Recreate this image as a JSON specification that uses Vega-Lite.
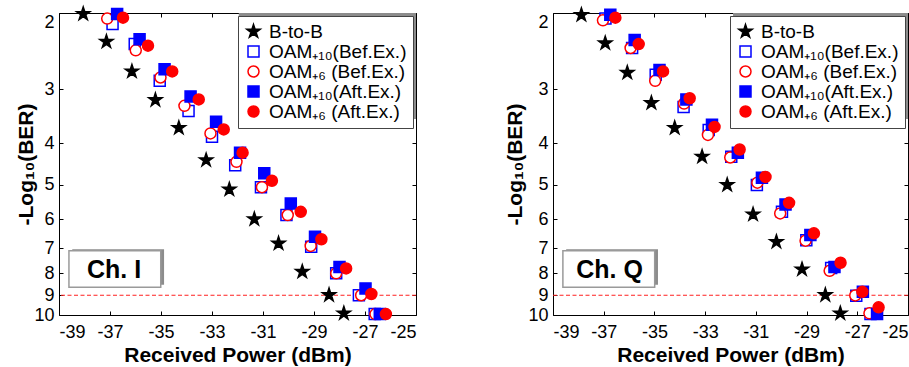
{
  "$schema": "https://vega.github.io/schema/vega-lite/v6.json",
  "background": "white",
  "padding": {"left": 14, "top": 3, "right": 0, "bottom": 0},
  "datasets": {
    "pts": [
      {"ch":"I","s":"B-to-B","p":-38.05,"b":2.01},{"ch":"I","s":"B-to-B","p":-37.14,"b":2.33},{"ch":"I","s":"B-to-B","p":-36.14,"b":2.73},{"ch":"I","s":"B-to-B","p":-35.22,"b":3.18},{"ch":"I","s":"B-to-B","p":-34.30,"b":3.69},{"ch":"I","s":"B-to-B","p":-33.23,"b":4.38},{"ch":"I","s":"B-to-B","p":-32.32,"b":5.12},{"ch":"I","s":"B-to-B","p":-31.34,"b":6.00},{"ch":"I","s":"B-to-B","p":-30.39,"b":6.83},{"ch":"I","s":"B-to-B","p":-29.46,"b":7.94},{"ch":"I","s":"B-to-B","p":-28.41,"b":8.99},{"ch":"I","s":"B-to-B","p":-27.83,"b":9.91},
      {"ch":"I","s":"OAM₊₁₀(Bef.Ex.)","p":-36.90,"b":2.12},{"ch":"I","s":"OAM₊₁₀(Bef.Ex.)","p":-36.03,"b":2.36},{"ch":"I","s":"OAM₊₁₀(Bef.Ex.)","p":-35.05,"b":2.87},{"ch":"I","s":"OAM₊₁₀(Bef.Ex.)","p":-33.92,"b":3.37},{"ch":"I","s":"OAM₊₁₀(Bef.Ex.)","p":-33.00,"b":3.87},{"ch":"I","s":"OAM₊₁₀(Bef.Ex.)","p":-32.09,"b":4.50},{"ch":"I","s":"OAM₊₁₀(Bef.Ex.)","p":-31.08,"b":5.06},{"ch":"I","s":"OAM₊₁₀(Bef.Ex.)","p":-30.08,"b":5.87},{"ch":"I","s":"OAM₊₁₀(Bef.Ex.)","p":-29.11,"b":6.95},{"ch":"I","s":"OAM₊₁₀(Bef.Ex.)","p":-28.13,"b":8.01},{"ch":"I","s":"OAM₊₁₀(Bef.Ex.)","p":-27.24,"b":9.0},{"ch":"I","s":"OAM₊₁₀(Bef.Ex.)","p":-26.62,"b":9.95},
      {"ch":"I","s":"OAM₊₆ (Bef.Ex.)","p":-37.11,"b":2.06},{"ch":"I","s":"OAM₊₆ (Bef.Ex.)","p":-35.99,"b":2.44},{"ch":"I","s":"OAM₊₆ (Bef.Ex.)","p":-35.02,"b":2.82},{"ch":"I","s":"OAM₊₆ (Bef.Ex.)","p":-34.08,"b":3.28},{"ch":"I","s":"OAM₊₆ (Bef.Ex.)","p":-33.06,"b":3.80},{"ch":"I","s":"OAM₊₆ (Bef.Ex.)","p":-32.04,"b":4.42},{"ch":"I","s":"OAM₊₆ (Bef.Ex.)","p":-31.04,"b":5.06},{"ch":"I","s":"OAM₊₆ (Bef.Ex.)","p":-30.03,"b":5.87},{"ch":"I","s":"OAM₊₆ (Bef.Ex.)","p":-29.13,"b":6.92},{"ch":"I","s":"OAM₊₆ (Bef.Ex.)","p":-28.13,"b":8.01},{"ch":"I","s":"OAM₊₆ (Bef.Ex.)","p":-27.15,"b":9.0},{"ch":"I","s":"OAM₊₆ (Bef.Ex.)","p":-26.59,"b":9.95},
      {"ch":"I","s":"OAM₊₁₀(Aft.Ex.)","p":-36.72,"b":2.01},{"ch":"I","s":"OAM₊₁₀(Aft.Ex.)","p":-35.84,"b":2.30},{"ch":"I","s":"OAM₊₁₀(Aft.Ex.)","p":-34.86,"b":2.70},{"ch":"I","s":"OAM₊₁₀(Aft.Ex.)","p":-33.84,"b":3.12},{"ch":"I","s":"OAM₊₁₀(Aft.Ex.)","p":-32.84,"b":3.57},{"ch":"I","s":"OAM₊₁₀(Aft.Ex.)","p":-31.90,"b":4.21},{"ch":"I","s":"OAM₊₁₀(Aft.Ex.)","p":-30.95,"b":4.70},{"ch":"I","s":"OAM₊₁₀(Aft.Ex.)","p":-29.91,"b":5.52},{"ch":"I","s":"OAM₊₁₀(Aft.Ex.)","p":-28.96,"b":6.59},{"ch":"I","s":"OAM₊₁₀(Aft.Ex.)","p":-28.00,"b":7.74},{"ch":"I","s":"OAM₊₁₀(Aft.Ex.)","p":-26.98,"b":8.68},{"ch":"I","s":"OAM₊₁₀(Aft.Ex.)","p":-26.42,"b":9.95},
      {"ch":"I","s":"OAM₊₆ (Aft.Ex.)","p":-36.49,"b":2.05},{"ch":"I","s":"OAM₊₆ (Aft.Ex.)","p":-35.51,"b":2.38},{"ch":"I","s":"OAM₊₆ (Aft.Ex.)","p":-34.56,"b":2.73},{"ch":"I","s":"OAM₊₆ (Aft.Ex.)","p":-33.52,"b":3.17},{"ch":"I","s":"OAM₊₆ (Aft.Ex.)","p":-32.54,"b":3.72},{"ch":"I","s":"OAM₊₆ (Aft.Ex.)","p":-31.80,"b":4.21},{"ch":"I","s":"OAM₊₆ (Aft.Ex.)","p":-30.65,"b":4.89},{"ch":"I","s":"OAM₊₆ (Aft.Ex.)","p":-29.52,"b":5.77},{"ch":"I","s":"OAM₊₆ (Aft.Ex.)","p":-28.71,"b":6.68},{"ch":"I","s":"OAM₊₆ (Aft.Ex.)","p":-27.74,"b":7.80},{"ch":"I","s":"OAM₊₆ (Aft.Ex.)","p":-26.75,"b":8.94},{"ch":"I","s":"OAM₊₆ (Aft.Ex.)","p":-26.18,"b":9.95},
      {"ch":"Q","s":"B-to-B","p":-37.88,"b":2.02},{"ch":"Q","s":"B-to-B","p":-36.94,"b":2.35},{"ch":"Q","s":"B-to-B","p":-36.07,"b":2.75},{"ch":"Q","s":"B-to-B","p":-35.12,"b":3.23},{"ch":"Q","s":"B-to-B","p":-34.20,"b":3.69},{"ch":"Q","s":"B-to-B","p":-33.12,"b":4.30},{"ch":"Q","s":"B-to-B","p":-32.13,"b":5.00},{"ch":"Q","s":"B-to-B","p":-31.11,"b":5.85},{"ch":"Q","s":"B-to-B","p":-30.19,"b":6.77},{"ch":"Q","s":"B-to-B","p":-29.18,"b":7.84},{"ch":"Q","s":"B-to-B","p":-28.26,"b":8.99},{"ch":"Q","s":"B-to-B","p":-27.67,"b":9.91},
      {"ch":"Q","s":"OAM₊₁₀(Bef.Ex.)","p":-36.93,"b":2.06},{"ch":"Q","s":"OAM₊₁₀(Bef.Ex.)","p":-35.88,"b":2.41},{"ch":"Q","s":"OAM₊₁₀(Bef.Ex.)","p":-34.95,"b":2.78},{"ch":"Q","s":"OAM₊₁₀(Bef.Ex.)","p":-33.85,"b":3.30},{"ch":"Q","s":"OAM₊₁₀(Bef.Ex.)","p":-32.86,"b":3.73},{"ch":"Q","s":"OAM₊₁₀(Bef.Ex.)","p":-31.97,"b":4.30},{"ch":"Q","s":"OAM₊₁₀(Bef.Ex.)","p":-30.96,"b":5.00},{"ch":"Q","s":"OAM₊₁₀(Bef.Ex.)","p":-29.97,"b":5.77},{"ch":"Q","s":"OAM₊₁₀(Bef.Ex.)","p":-29.01,"b":6.71},{"ch":"Q","s":"OAM₊₁₀(Bef.Ex.)","p":-28.03,"b":7.78},{"ch":"Q","s":"OAM₊₁₀(Bef.Ex.)","p":-27.04,"b":9.02},{"ch":"Q","s":"OAM₊₁₀(Bef.Ex.)","p":-26.48,"b":9.95},
      {"ch":"Q","s":"OAM₊₆ (Bef.Ex.)","p":-37.03,"b":2.08},{"ch":"Q","s":"OAM₊₆ (Bef.Ex.)","p":-35.94,"b":2.41},{"ch":"Q","s":"OAM₊₆ (Bef.Ex.)","p":-34.97,"b":2.87},{"ch":"Q","s":"OAM₊₆ (Bef.Ex.)","p":-33.83,"b":3.24},{"ch":"Q","s":"OAM₊₆ (Bef.Ex.)","p":-32.89,"b":3.83},{"ch":"Q","s":"OAM₊₆ (Bef.Ex.)","p":-32.01,"b":4.32},{"ch":"Q","s":"OAM₊₆ (Bef.Ex.)","p":-30.94,"b":4.94},{"ch":"Q","s":"OAM₊₆ (Bef.Ex.)","p":-30.04,"b":5.82},{"ch":"Q","s":"OAM₊₆ (Bef.Ex.)","p":-29.04,"b":6.73},{"ch":"Q","s":"OAM₊₆ (Bef.Ex.)","p":-28.09,"b":7.90},{"ch":"Q","s":"OAM₊₆ (Bef.Ex.)","p":-27.08,"b":9.01},{"ch":"Q","s":"OAM₊₆ (Bef.Ex.)","p":-26.52,"b":9.91},
      {"ch":"Q","s":"OAM₊₁₀(Aft.Ex.)","p":-36.74,"b":2.02},{"ch":"Q","s":"OAM₊₁₀(Aft.Ex.)","p":-35.78,"b":2.31},{"ch":"Q","s":"OAM₊₁₀(Aft.Ex.)","p":-34.80,"b":2.71},{"ch":"Q","s":"OAM₊₁₀(Aft.Ex.)","p":-33.74,"b":3.17},{"ch":"Q","s":"OAM₊₁₀(Aft.Ex.)","p":-32.73,"b":3.63},{"ch":"Q","s":"OAM₊₁₀(Aft.Ex.)","p":-31.71,"b":4.21},{"ch":"Q","s":"OAM₊₁₀(Aft.Ex.)","p":-30.76,"b":4.81},{"ch":"Q","s":"OAM₊₁₀(Aft.Ex.)","p":-29.83,"b":5.55},{"ch":"Q","s":"OAM₊₁₀(Aft.Ex.)","p":-28.85,"b":6.53},{"ch":"Q","s":"OAM₊₁₀(Aft.Ex.)","p":-27.90,"b":7.74},{"ch":"Q","s":"OAM₊₁₀(Aft.Ex.)","p":-26.78,"b":8.84},{"ch":"Q","s":"OAM₊₁₀(Aft.Ex.)","p":-26.22,"b":9.95},
      {"ch":"Q","s":"OAM₊₆ (Aft.Ex.)","p":-36.54,"b":2.05},{"ch":"Q","s":"OAM₊₆ (Aft.Ex.)","p":-35.62,"b":2.36},{"ch":"Q","s":"OAM₊₆ (Aft.Ex.)","p":-34.66,"b":2.73},{"ch":"Q","s":"OAM₊₆ (Aft.Ex.)","p":-33.61,"b":3.15},{"ch":"Q","s":"OAM₊₆ (Aft.Ex.)","p":-32.63,"b":3.67},{"ch":"Q","s":"OAM₊₆ (Aft.Ex.)","p":-31.64,"b":4.14},{"ch":"Q","s":"OAM₊₆ (Aft.Ex.)","p":-30.62,"b":4.79},{"ch":"Q","s":"OAM₊₆ (Aft.Ex.)","p":-29.69,"b":5.50},{"ch":"Q","s":"OAM₊₆ (Aft.Ex.)","p":-28.71,"b":6.47},{"ch":"Q","s":"OAM₊₆ (Aft.Ex.)","p":-27.66,"b":7.57},{"ch":"Q","s":"OAM₊₆ (Aft.Ex.)","p":-26.80,"b":8.84},{"ch":"Q","s":"OAM₊₆ (Aft.Ex.)","p":-26.16,"b":9.60}
    ]
  },
  "spacing": 85,
  "resolve": {"scale": {"shape": "independent", "fill": "independent", "stroke": "independent"}},
  "hconcat": [
    {
      "width": 357,
      "height": 302,
      "resolve": {"axis": {"x": "independent", "y": "independent"}},
      "layer": [
        {
          "data": {"values": [{}]},
          "mark": {"type": "rect", "color": "#8c8c8c"},
          "encoding": {
            "x": {"datum": -31.95, "type": "quantitative", "axis": null},
            "x2": {"datum": -25},
            "y": {"datum": 2, "type": "quantitative", "axis": null},
            "y2": {"datum": 3.52}
          }
        },
        {
          "data": {"values": [{}]},
          "mark": {"type": "rect", "color": "#8c8c8c"},
          "encoding": {
            "x": {"datum": -38.48, "type": "quantitative", "axis": null},
            "x2": {"datum": -34.88},
            "y": {"datum": 7.04, "type": "quantitative", "axis": null},
            "y2": {"datum": 8.51}
          }
        },
        {
          "data": {"values": [{}]},
          "mark": {"type": "rect", "fill": "white", "stroke": "#9a9a9a", "strokeWidth": 1.5},
          "encoding": {
            "x": {"datum": -38.61, "type": "quantitative", "axis": {"orient": "top", "values": [-39,-37,-35,-33,-31,-29,-27,-25], "labels": false, "title": null, "domain": false, "tickSize": -4, "tickColor": "black", "grid": false}},
            "x2": {"datum": -35.01},
            "y": {"datum": 7.1, "type": "quantitative", "axis": {"orient": "right", "values": [2,3,4,5,6,7,8,9,10], "labels": false, "title": null, "domain": false, "tickSize": -4, "tickColor": "black", "grid": false}},
            "y2": {"datum": 8.63}
          }
        },
        {
          "data": {"values": [{}]},
          "mark": {"type": "text", "text": "Ch. I", "font": "Liberation Sans", "fontWeight": "bold", "fontSize": 25, "color": "black", "align": "center", "baseline": "middle"},
          "encoding": {
            "x": {"datum": -36.84, "type": "quantitative", "axis": null},
            "y": {"datum": 7.87, "type": "quantitative", "axis": null}
          }
        },
        {
          "data": {"values": [{}]},
          "mark": {"type": "rule", "color": "#ff2020", "strokeDash": [4, 2.5], "strokeWidth": 1.2},
          "encoding": {"y": {"datum": 9, "type": "quantitative", "axis": null}}
        },
        {
          "data": {"name": "pts"},
          "transform": [{"filter": "datum.ch === 'I'"}],
          "mark": {"type": "point", "size": 121, "strokeWidth": 1.5, "opacity": 1},
          "encoding": {
            "x": {"field": "p", "type": "quantitative", "scale": {"domain": [-39, -25], "nice": false, "zero": false},
              "axis": {"orient": "bottom", "values": [-39,-37,-35,-33,-31,-29,-27,-25], "labelExpr": "'' + datum.value", "labelFlush": true, "tickSize": -4, "labelPadding": 12, "domain": false, "grid": false, "title": "Received Power (dBm)", "titlePadding": 3}},
            "y": {"field": "b", "type": "quantitative", "scale": {"type": "log", "domain": [2, 10], "nice": false, "reverse": true},
              "axis": {"orient": "left", "values": [2,3,4,5,6,7,8,9,10], "labelExpr": "'' + datum.value", "tickSize": -4, "labelPadding": 9, "domain": false, "grid": false, "labelOffset": {"condition": {"test": "datum.value == 2", "value": 9}, "value": 0}, "title": "-Log₁₀(BER)", "titleX": -33, "titleY": 151, "titleBaseline": "middle"}},
            "shape": {"field": "s", "type": "nominal", "legend": {"title": null},
              "scale": {"domain": ["B-to-B","OAM₊₁₀(Bef.Ex.)","OAM₊₆ (Bef.Ex.)","OAM₊₁₀(Aft.Ex.)","OAM₊₆ (Aft.Ex.)"],
                "range": ["M0,-1.27L0.285,-0.392L1.208,-0.392L0.461,0.15L0.746,1.027L0,0.485L-0.746,1.027L-0.461,0.15L-1.208,-0.392L-0.285,-0.392Z","square","circle","square","circle"]}},
            "fill": {"field": "s", "type": "nominal", "legend": {"title": null},
              "scale": {"domain": ["B-to-B","OAM₊₁₀(Bef.Ex.)","OAM₊₆ (Bef.Ex.)","OAM₊₁₀(Aft.Ex.)","OAM₊₆ (Aft.Ex.)"], "range": ["black","white","white","#0000ff","#ff0000"]}},
            "stroke": {"field": "s", "type": "nominal", "legend": {"title": null},
              "scale": {"domain": ["B-to-B","OAM₊₁₀(Bef.Ex.)","OAM₊₆ (Bef.Ex.)","OAM₊₁₀(Aft.Ex.)","OAM₊₆ (Aft.Ex.)"], "range": ["black","#0000ff","#ff0000","#0000ff","#ff0000"]}}
          }
        }
      ]
    },
    {
      "width": 355,
      "height": 302,
      "resolve": {"axis": {"x": "independent", "y": "independent"}},
      "layer": [
        {
          "data": {"values": [{}]},
          "mark": {"type": "rect", "color": "#8c8c8c"},
          "encoding": {
            "x": {"datum": -31.9, "type": "quantitative", "axis": null},
            "x2": {"datum": -25},
            "y": {"datum": 2, "type": "quantitative", "axis": null},
            "y2": {"datum": 3.52}
          }
        },
        {
          "data": {"values": [{}]},
          "mark": {"type": "rect", "color": "#8c8c8c"},
          "encoding": {
            "x": {"datum": -38.48, "type": "quantitative", "axis": null},
            "x2": {"datum": -34.86},
            "y": {"datum": 7.04, "type": "quantitative", "axis": null},
            "y2": {"datum": 8.51}
          }
        },
        {
          "data": {"values": [{}]},
          "mark": {"type": "rect", "fill": "white", "stroke": "#9a9a9a", "strokeWidth": 1.5},
          "encoding": {
            "x": {"datum": -38.61, "type": "quantitative", "axis": {"orient": "top", "values": [-39,-37,-35,-33,-31,-29,-27,-25], "labels": false, "title": null, "domain": false, "tickSize": -4, "tickColor": "black", "grid": false}},
            "x2": {"datum": -34.99},
            "y": {"datum": 7.1, "type": "quantitative", "axis": {"orient": "right", "values": [2,3,4,5,6,7,8,9,10], "labels": false, "title": null, "domain": false, "tickSize": -4, "tickColor": "black", "grid": false}},
            "y2": {"datum": 8.63}
          }
        },
        {
          "data": {"values": [{}]},
          "mark": {"type": "text", "text": "Ch. Q", "font": "Liberation Sans", "fontWeight": "bold", "fontSize": 25, "color": "black", "align": "center", "baseline": "middle"},
          "encoding": {
            "x": {"datum": -36.77, "type": "quantitative", "axis": null},
            "y": {"datum": 7.87, "type": "quantitative", "axis": null}
          }
        },
        {
          "data": {"values": [{}]},
          "mark": {"type": "rule", "color": "#ff2020", "strokeDash": [4, 2.5], "strokeWidth": 1.2},
          "encoding": {"y": {"datum": 9, "type": "quantitative", "axis": null}}
        },
        {
          "data": {"name": "pts"},
          "transform": [{"filter": "datum.ch === 'Q'"}],
          "mark": {"type": "point", "size": 121, "strokeWidth": 1.5, "opacity": 1},
          "encoding": {
            "x": {"field": "p", "type": "quantitative", "scale": {"domain": [-39, -25], "nice": false, "zero": false},
              "axis": {"orient": "bottom", "values": [-39,-37,-35,-33,-31,-29,-27,-25], "labelExpr": "'' + datum.value", "labelFlush": true, "tickSize": -4, "labelPadding": 12, "domain": false, "grid": false, "title": "Received Power (dBm)", "titlePadding": 3}},
            "y": {"field": "b", "type": "quantitative", "scale": {"type": "log", "domain": [2, 10], "nice": false, "reverse": true},
              "axis": {"orient": "left", "values": [2,3,4,5,6,7,8,9,10], "labelExpr": "'' + datum.value", "tickSize": -4, "labelPadding": 9, "domain": false, "grid": false, "labelOffset": {"condition": {"test": "datum.value == 2", "value": 9}, "value": 0}, "title": "-Log₁₀(BER)", "titleX": -38, "titleY": 151, "titleBaseline": "middle"}},
            "shape": {"field": "s", "type": "nominal", "legend": {"title": null},
              "scale": {"domain": ["B-to-B","OAM₊₁₀(Bef.Ex.)","OAM₊₆ (Bef.Ex.)","OAM₊₁₀(Aft.Ex.)","OAM₊₆ (Aft.Ex.)"],
                "range": ["M0,-1.27L0.285,-0.392L1.208,-0.392L0.461,0.15L0.746,1.027L0,0.485L-0.746,1.027L-0.461,0.15L-1.208,-0.392L-0.285,-0.392Z","square","circle","square","circle"]}},
            "fill": {"field": "s", "type": "nominal", "legend": {"title": null},
              "scale": {"domain": ["B-to-B","OAM₊₁₀(Bef.Ex.)","OAM₊₆ (Bef.Ex.)","OAM₊₁₀(Aft.Ex.)","OAM₊₆ (Aft.Ex.)"], "range": ["black","white","white","#0000ff","#ff0000"]}},
            "stroke": {"field": "s", "type": "nominal", "legend": {"title": null},
              "scale": {"domain": ["B-to-B","OAM₊₁₀(Bef.Ex.)","OAM₊₆ (Bef.Ex.)","OAM₊₁₀(Aft.Ex.)","OAM₊₆ (Aft.Ex.)"], "range": ["black","#0000ff","#ff0000","#0000ff","#ff0000"]}}
          }
        }
      ]
    }
  ],
  "config": {
    "font": "Liberation Sans",
    "view": {"stroke": "black", "strokeWidth": 1},
    "axis": {
      "labelFont": "Liberation Sans", "labelFontSize": 18, "labelColor": "black",
      "titleFont": "Liberation Sans", "titleFontSize": 21, "titleFontWeight": "bold", "titleColor": "black",
      "tickColor": "black", "tickWidth": 1
    },
    "legend": {
      "orient": "top-right", "offset": 3, "padding": 6, "rowPadding": -2,
      "fillColor": "white", "strokeColor": "#444444",
      "labelFont": "Liberation Sans", "labelFontSize": 19, "labelColor": "black", "labelOffset": 6,
      "symbolSize": 121, "symbolStrokeWidth": 1.5, "symbolType": "circle"
    }
  }
}
